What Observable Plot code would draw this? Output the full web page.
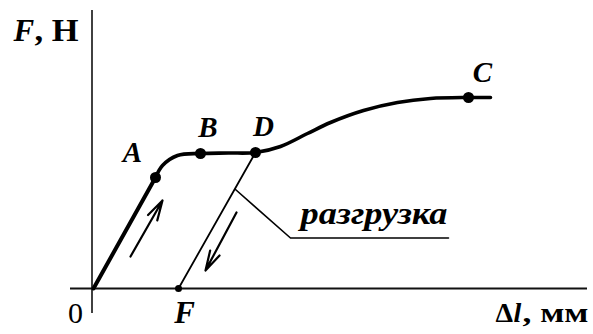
<!DOCTYPE html>
<html><head><meta charset="utf-8">
<script src="https://cdn.jsdelivr.net/npm/d3@7"></script>
<script src="https://cdn.jsdelivr.net/npm/@observablehq/plot@0.6"></script>
<style>body{margin:0;background:#fff;} svg{display:block;}</style>
</head><body><div id="chart"></div>
<script>
// Loading branch O -> A (elastic, straight)
const loadX = [0, 6.2];
const loadY = [0, 11.1];
// Loading curve A -> B -> D -> C
const curveX = [6.2, 6.9, 8.4, 10.7, 13.5, 16.2, 18.7, 21.4, 23.7, 27.0, 30.4, 33.7, 37.5, 39.7];
const curveY = [11.1, 12.3, 13.3, 13.5, 13.55, 13.6, 14.2, 15.5, 16.6, 17.8, 18.6, 19.0, 19.1, 19.1];
// Marked points
const pointNames = ["A", "B", "D", "C"];
const pointX = [6.2, 10.7, 16.2, 37.5];
const pointY = [11.1, 13.5, 13.6, 19.1];
const labelX = [3.9, 11.45, 17.0, 38.9];
const labelY = [13.6, 16.05, 16.2, 21.6];
// Unloading D -> F
const unloadX = [16.2, 8.5];
const unloadY = [13.6, 0];
const residualName = "F";
// Leader to "разгрузка"
const leaderX = [14.2, 19.7, 35.5];
const leaderY = [9.9, 5.05, 5.05];
const unloadText = "разгрузка";
// Direction arrows
const arrowX1 = [3.7, 14.3], arrowY1 = [3.2, 7.6];
const arrowX2 = [6.9, 11.2], arrowY2 = [8.8, 1.8];
// Axis titles
const yTitleVar = "F", yTitleUnit = ", Н";
const xTitleVar = "Δ", xTitleL = "l", xTitleUnit = ", мм";
const originLabel = "0";

// text widths (px) to match the stretched lettering of the reference
const stretch = {"разгрузка": 147, ", мм": 66, ", Н": 44};

const serif = "'Liberation Serif', 'DejaVu Serif', serif";
const row = (xs, ys) => xs.map((x, i) => ({x, y: ys[i]}));

const plot = Plot.plot({
  width: 593, height: 334,
  marginLeft: 70, marginRight: 6, marginTop: 10, marginBottom: 21,
  x: {domain: [-2.3, 49.4], axis: null},
  y: {domain: [-2.5, 27.8], axis: null},
  style: {background: "#fff", color: "#000"},
  marks: [
    Plot.ruleX([-0.15], {y1: -2.5, y2: 27.8, stroke: "#111", strokeWidth: 1.6}),
    Plot.ruleY([0], {x1: -2.3, x2: 49.4, stroke: "#111", strokeWidth: 1.8}),
    Plot.line(row(loadX, loadY), {x: "x", y: "y", stroke: "#000", strokeWidth: 4}),
    Plot.line(row(curveX, curveY), {x: "x", y: "y", stroke: "#000", strokeWidth: 3.6, curve: "catmull-rom"}),
    Plot.line(row(unloadX, unloadY), {x: "x", y: "y", stroke: "#000", strokeWidth: 1.8}),
    Plot.line(row(leaderX, leaderY), {x: "x", y: "y", stroke: "#000", strokeWidth: 1.6}),
    Plot.arrow(arrowX1.map((x, i) => ({x1: x, y1: arrowY1[i], x2: arrowX2[i], y2: arrowY2[i]})),
      {x1: "x1", y1: "y1", x2: "x2", y2: "y2", stroke: "#000", strokeWidth: 2.2, headLength: 14, headAngle: 30}),
    Plot.dot(row(pointX, pointY), {x: "x", y: "y", r: 5.5, fill: "#000"}),
    Plot.dot([{x: unloadX[1], y: unloadY[1]}], {x: "x", y: "y", r: 3.5, fill: "#000"}),
    Plot.text(pointNames.map((t, i) => ({t, x: labelX[i], y: labelY[i]})),
      {x: "x", y: "y", text: "t", fontSize: 29, fontStyle: "italic", fontWeight: "bold", fontFamily: serif, fill: "#000"}),
    Plot.text([{t: residualName, x: 9.1, y: -2.5}], {x: "x", y: "y", text: "t", fontSize: 31, fontStyle: "italic", fontWeight: "bold", fontFamily: serif}),
    Plot.text([{t: originLabel, x: -1.8, y: -2.5}], {x: "x", y: "y", text: "t", fontSize: 30, fontFamily: serif}),
    Plot.text([{t: yTitleVar, x: -8.0, y: 25.7}], {x: "x", y: "y", text: "t", textAnchor: "start", fontSize: 31, fontStyle: "italic", fontWeight: "bold", fontFamily: serif}),
    Plot.text([{t: yTitleUnit, x: -5.9, y: 25.7}], {x: "x", y: "y", text: "t", textAnchor: "start", fontSize: 31, fontWeight: "bold", fontFamily: serif}),
    Plot.text([{t: xTitleVar, x: 40.2, y: -2.5}], {x: "x", y: "y", text: "t", textAnchor: "start", fontSize: 28, fontWeight: "bold", fontFamily: serif}),
    Plot.text([{t: xTitleL, x: 42.0, y: -2.5}], {x: "x", y: "y", text: "t", textAnchor: "start", fontSize: 28, fontStyle: "italic", fontWeight: "bold", fontFamily: serif}),
    Plot.text([{t: xTitleUnit, x: 42.9, y: -2.5}], {x: "x", y: "y", text: "t", textAnchor: "start", fontSize: 28, fontWeight: "bold", fontFamily: serif}),
    Plot.text([{t: unloadText, x: 20.7, y: 7.5}], {x: "x", y: "y", text: "t", textAnchor: "start", fontSize: 32, fontStyle: "italic", fontWeight: "bold", fontFamily: serif})
  ]
});
d3.select(plot).selectAll("text").each(function () {
  const w = stretch[this.textContent];
  if (w) d3.select(this).attr("textLength", w).attr("lengthAdjust", "spacingAndGlyphs");
});
document.getElementById("chart").appendChild(plot);
</script></body></html>
